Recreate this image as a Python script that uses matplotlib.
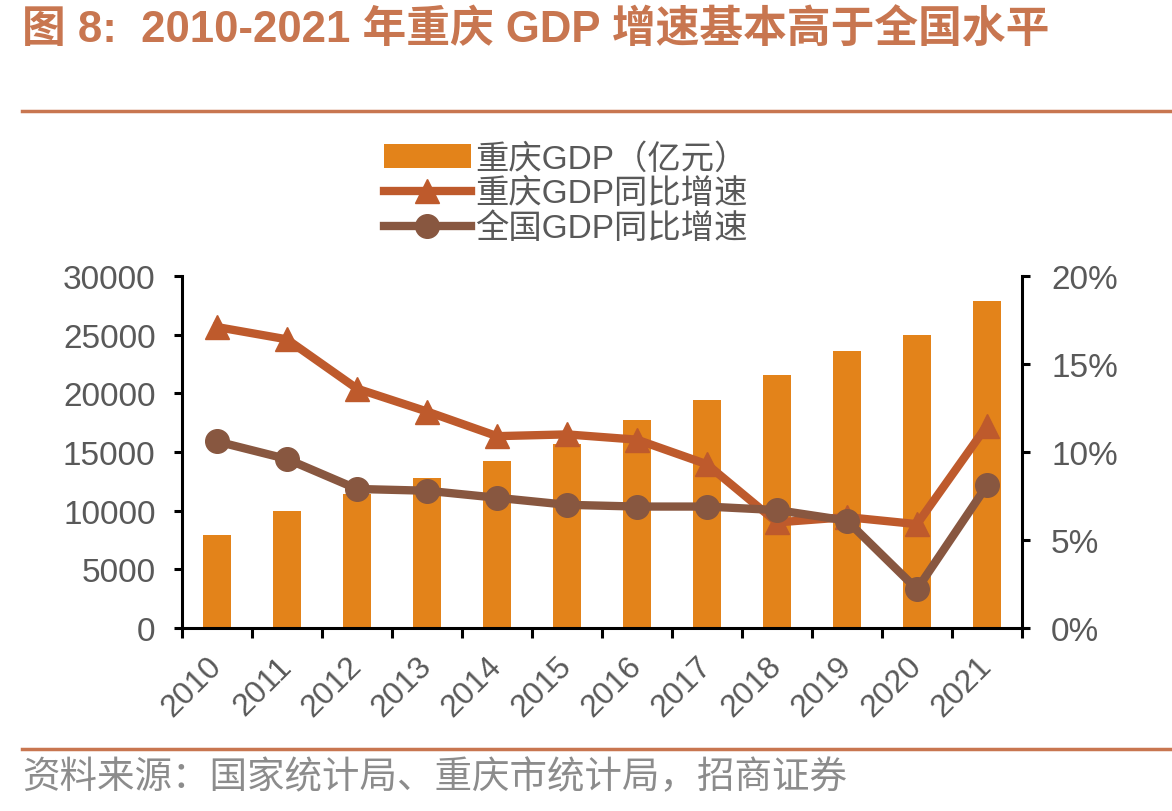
import matplotlib
matplotlib.use("Agg")
import matplotlib.pyplot as plt
import numpy as np
from matplotlib.ticker import FuncFormatter

plt.rcParams['font.family'] = ['Liberation Sans', 'Noto Sans CJK SC', 'DejaVu Sans']

years = ["2010", "2011", "2012", "2013", "2014", "2015",
         "2016", "2017", "2018", "2019", "2020", "2021"]
cq_gdp = [7926, 10011, 11410, 12783, 14263, 15717,
          17741, 19425, 21589, 23606, 25003, 27894]
cq_growth = [17.1, 16.4, 13.6, 12.3, 10.9, 11.0,
             10.7, 9.3, 6.0, 6.3, 5.9, 11.5]
cn_growth = [10.6, 9.6, 7.9, 7.8, 7.4, 7.0,
             6.9, 6.9, 6.7, 6.1, 2.2, 8.1]

bar_color = "#E3831A"
cq_color = "#BE5A2C"
cn_color = "#885740"
accent = "#C87650"
text_gray = "#595959"

fig = plt.figure(figsize=(11.72, 8.12), dpi=100)
ax = fig.add_axes([182 / 1172, 1 - 629 / 812, 840 / 1172, 352 / 812])
ax2 = ax.twinx()

x = np.arange(len(years))
bars = ax.bar(x, cq_gdp, width=0.41, color=bar_color, label="重庆GDP（亿元）")
l1, = ax2.plot(x, cq_growth, color=cq_color, lw=6, marker="^", ms=17,
               label="重庆GDP同比增速")
l2, = ax2.plot(x, cn_growth, color=cn_color, lw=6, marker="o", ms=17,
               label="全国GDP同比增速")

ax.set_xlim(-0.5, len(years) - 0.5)
ax.set_ylim(0, 30000)
ax.set_yticks(range(0, 30001, 5000))
ax2.set_ylim(0, 20)
ax2.set_yticks(range(0, 21, 5))
ax2.yaxis.set_major_formatter(FuncFormatter(lambda v, p: f"{v:.0f}%"))

ax.set_xticks(x)
ax.set_xticklabels(years, rotation=45, ha="right", va="center",
                   rotation_mode="anchor")
ax.set_xticks(np.arange(-0.5, len(years), 1), minor=True)
ax.tick_params(axis="x", which="major", length=0, pad=24,
               labelsize=23, labelcolor=text_gray)
ax.tick_params(axis="x", which="minor", length=7, width=2.2, direction="out")
ax.tick_params(axis="y", length=6, width=2.2, labelsize=24,
               labelcolor=text_gray, pad=13)
ax2.tick_params(axis="y", length=6, width=2.2, labelsize=24,
                labelcolor=text_gray, pad=15)

for a in (ax, ax2):
    a.spines["top"].set_visible(False)
    for s in ("left", "right", "bottom"):
        a.spines[s].set_linewidth(2.2)
ax.spines["right"].set_visible(False)
ax2.spines["left"].set_visible(False)
ax2.spines["bottom"].set_visible(False)

leg = fig.legend(handles=[bars, l1, l2], loc="upper left",
                 bbox_to_anchor=(354 / 1172, 1 - 114 / 812),
                 frameon=False, fontsize=24, handlelength=2.6,
                 handletextpad=0.15, labelspacing=0.1,
                 labelcolor=text_gray)

fig.text(22 / 1172, 1 - 30 / 812, "图 8:  2010-2021 年重庆 GDP 增速基本高于全国水平",
         fontsize=31.5, fontweight="bold", color=accent, va="center", ha="left")
fig.add_artist(plt.Line2D([22 / 1172, 1], [1 - 112 / 812] * 2,
                          color=accent, lw=2.5))
fig.add_artist(plt.Line2D([22 / 1172, 1], [1 - 750 / 812] * 2,
                          color=accent, lw=2.5))
fig.text(22 / 1172, 1 - 778 / 812, "资料来源：国家统计局、重庆市统计局，招商证券",
         fontsize=27, color="#8C8C8C", va="center", ha="left")

fig.savefig("out.png", dpi=100)
